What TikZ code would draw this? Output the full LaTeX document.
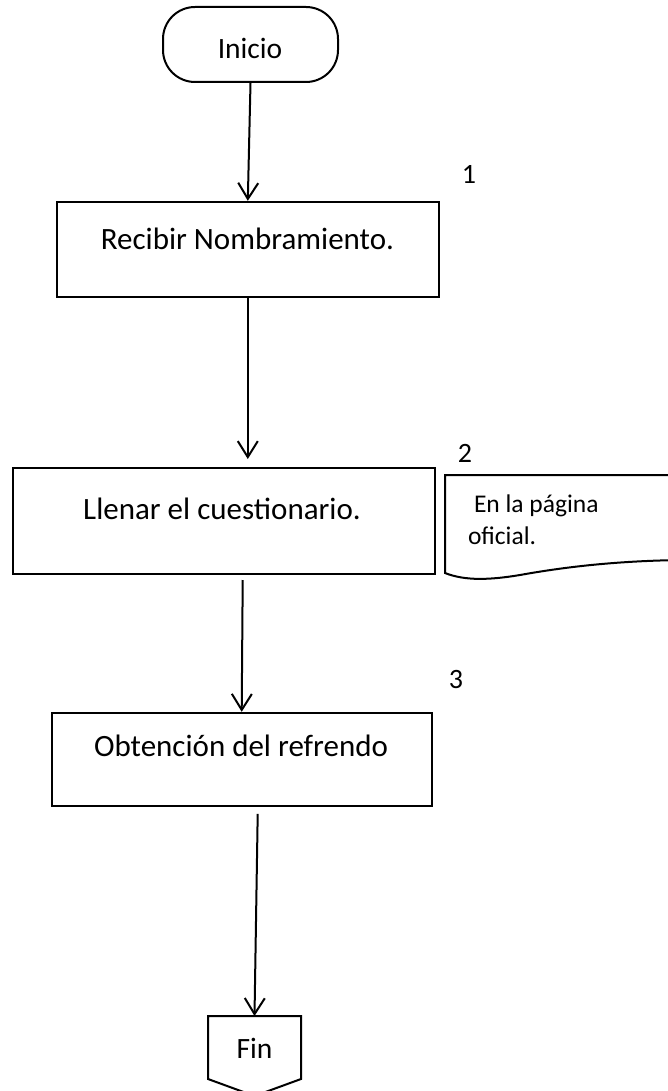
\documentclass[tikz,border=0pt]{standalone}
\usepackage{fontspec}
\setmainfont{Carlito}
\usetikzlibrary{arrows.meta}
\begin{document}
\begin{tikzpicture}[x=1pt,y=-1pt,
  line width=2pt,
  box/.style={draw, rectangle, inner sep=0pt},
  term/.style={draw, rectangle, rounded corners=32pt, inner sep=0pt},
  txt/.style={inner sep=0pt, anchor=base, font=\fontsize{31}{36}\selectfont},
  numtxt/.style={inner sep=0pt, anchor=base, font=\fontsize{28}{32}\selectfont},
  doctxt/.style={inner sep=0pt, anchor=base west, font=\fontsize{25.5}{30}\selectfont},
  arr/.style={-{Straight Barb[length=16pt,width=20pt]}}
]
\useasboundingbox (0,0) rectangle (668,1091);
\clip (0,0) rectangle (668,1091);

% Terminal
\node[term, minimum width=175pt, minimum height=75pt] (inicio) at (250.5,44.5) {};
\node[txt, font=\fontsize{29.5}{34}\selectfont] (tinicio) at (250,59) {Inicio};

% Process boxes
\node[box, minimum width=382pt, minimum height=95pt] (b1) at (247.8,249.3) {};
\node[txt] (t1) at (247.4,250) {Recibir Nombramiento.};

\node[box, minimum width=422pt, minimum height=106pt] (b2) at (223.7,521) {};
\node[txt] (t2) at (222,519) {Llenar el cuestionario.};

\node[box, minimum width=380pt, minimum height=93pt] (b3) at (241.7,759.3) {};
\node[txt] (t3) at (241,756.7) {Obtención del refrendo};

% Numbers
\node[numtxt] (n1) at (469,184) {1};
\node[numtxt] (n2) at (465,462) {2};
\node[numtxt] (n3) at (456,688) {3};

% Document shape
\draw (680,475) -- (445,475) -- (445,573)
  .. controls (465,581) and (490,580) .. (520,575)
  .. controls (570,566) and (620,561) .. (680,560);
\node[doctxt] (d1) at (473,512) {En la página};
\node[doctxt] (d2) at (467,544) {oficial.};

% Off-page connector (Fin)
\node[rectangle, inner sep=0pt, minimum width=91pt, minimum height=61pt] (fin) at (254.5,1047.5) {};
\draw (fin.north west) -- (fin.north east) -- (fin.south east) -- ([yshift=-17pt]fin.south) -- (fin.south west) -- cycle;
\node[txt, font=\fontsize{29.5}{34}\selectfont] (tfin) at (254.5,1058) {Fin};

% Connectors
\draw[arr] (inicio.south) -- (b1.north);
\draw[arr, shorten >=8pt] (b1.south) -- (b1.south |- b2.north);
\draw[arr] ([xshift=19pt,yshift=-5pt]b2.south) -- (b3.north);
\draw[arr] ([xshift=16pt,yshift=-7pt]b3.south) -- (fin.north);
\end{tikzpicture}
\end{document}
